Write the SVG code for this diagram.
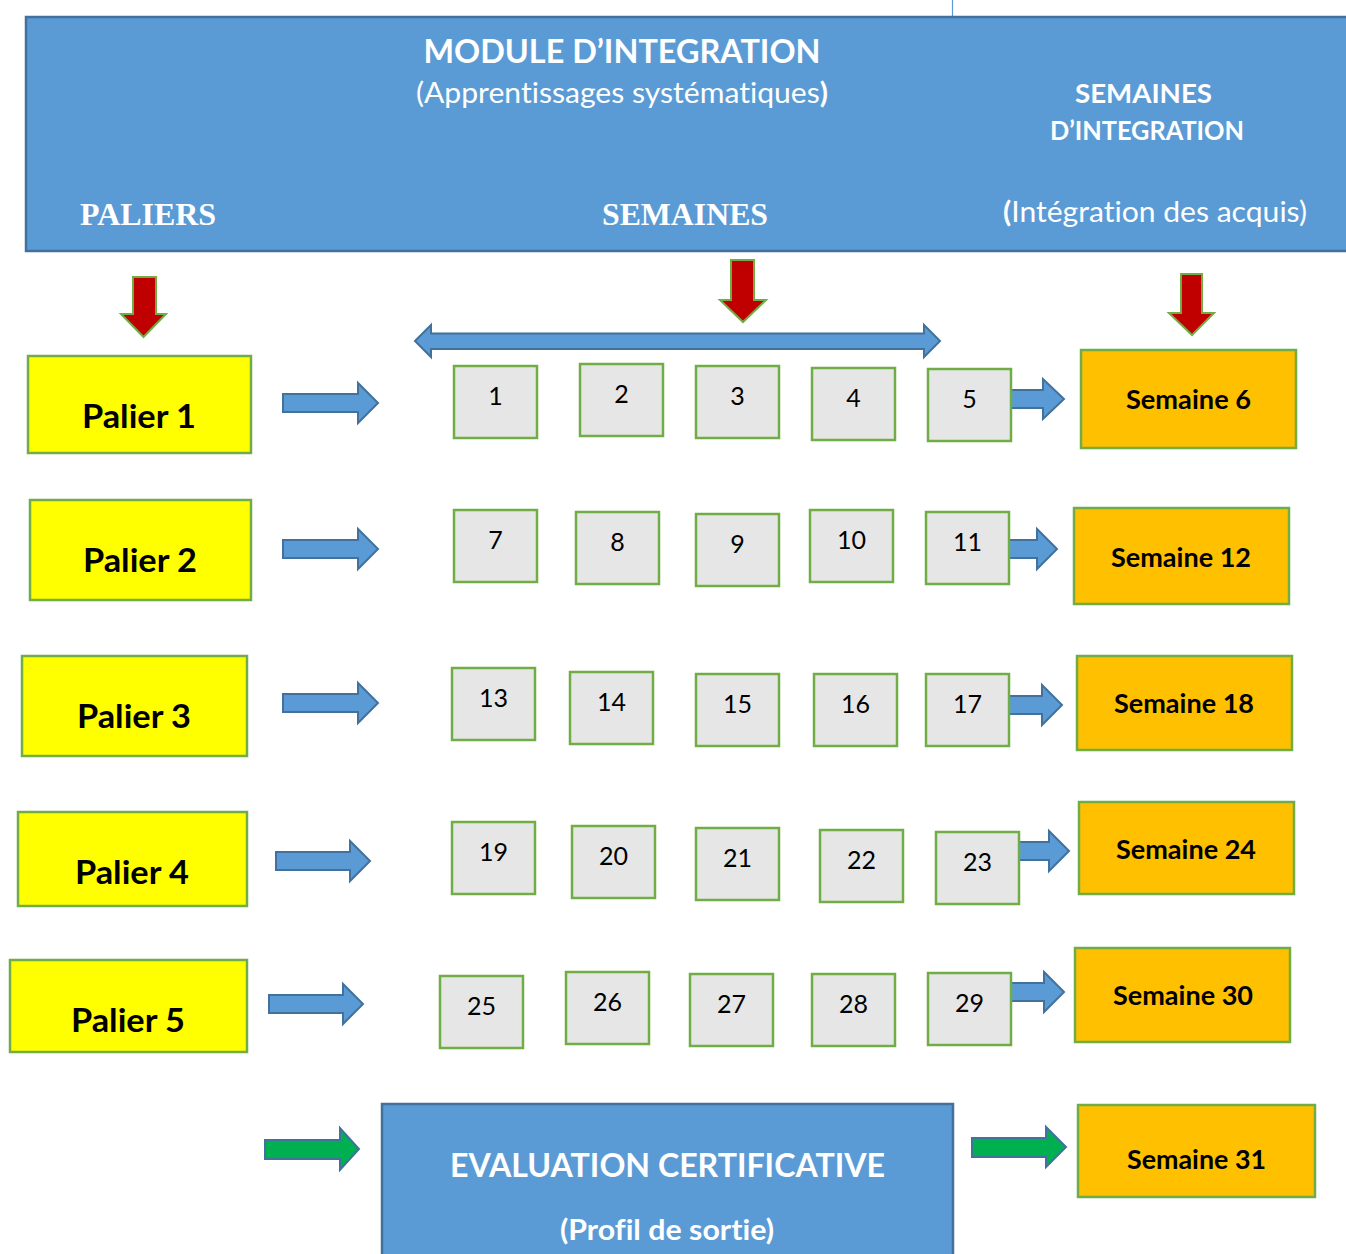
<svg xmlns="http://www.w3.org/2000/svg" width="1346" height="1254" viewBox="0 0 1346 1254">
  <style>
    .hdr { fill: #5B9BD5; stroke: #41719C; stroke-width: 2.5; }
    .palier { fill: #FFFF00; stroke: #70AD47; stroke-width: 2.5; }
    .week { fill: #E7E6E6; stroke: #70AD47; stroke-width: 2.5; }
    .integ { fill: #FFC000; stroke: #70AD47; stroke-width: 2.5; }
    .barrow { fill: #5B9BD5; stroke: #41719C; stroke-width: 2; stroke-linejoin: miter; }
    .garrow { fill: #00B050; stroke: #41719C; stroke-width: 2; }
    .rarrow { fill: #C00000; stroke: #70AD47; stroke-width: 2; }
    text { font-family: Lato, "Open Sans", "Liberation Sans", sans-serif; font-variant-ligatures: none; }
    .wt { fill: #FFFFFF; }
    .b { font-weight: bold; }
    .serif { font-family: "Liberation Serif", "DejaVu Serif", serif; font-weight: bold; font-size: 32px; fill: #FFFFFF; }
    .num { font-size: 25px; fill: #000000; text-anchor: middle; }
    .pl { font-size: 32px; font-weight: bold; fill: #000000; text-anchor: middle; }
    .sm { font-size: 27px; font-weight: bold; fill: #000000; text-anchor: middle; }
  </style>

  <!-- thin rule above the header -->
  <line x1="952.5" y1="0" x2="952.5" y2="17" stroke="#5B9BD5" stroke-width="1.2"/>

  <!-- header band -->
  <g id="header">
    <rect class="hdr" x="26" y="17" width="1340" height="234"/>
    <text class="wt b" x="622" y="63" font-size="33" text-anchor="middle" textLength="397" lengthAdjust="spacingAndGlyphs">MODULE D’INTEGRATION</text>
    <text class="wt" x="622" y="103" font-size="28" text-anchor="middle" textLength="412" lengthAdjust="spacingAndGlyphs">(Apprentissages systématiques<tspan font-weight="bold">)</tspan></text>
    <text class="wt b" x="1143.5" y="103" font-size="27" text-anchor="middle" textLength="137" lengthAdjust="spacingAndGlyphs">SEMAINES</text>
    <text class="wt b" x="1147" y="140" font-size="27" text-anchor="middle" textLength="194" lengthAdjust="spacingAndGlyphs">D’INTEGRATION</text>
    <text class="wt" x="1155" y="222" font-size="28" text-anchor="middle" textLength="304" lengthAdjust="spacingAndGlyphs"><tspan font-weight="bold">(</tspan>Intégration des acquis)</text>
    <text class="serif" x="80" y="225" textLength="136" lengthAdjust="spacingAndGlyphs">PALIERS</text>
    <text class="serif" x="602" y="225" textLength="166" lengthAdjust="spacingAndGlyphs">SEMAINES</text>
  </g>

  <!-- connectors -->
  <g id="connectors">
    <!-- red down arrows -->
    <path class="rarrow" d="M133,277 H156 V314 H166 L143.5,337 L121,314 H133 Z"/>
    <path class="rarrow" d="M731,260 H754 V300 H766 L743,322 L720,300 H731 Z"/>
    <path class="rarrow" d="M1181,274 H1202 V313 H1214 L1192,335 L1169,313 H1181 Z"/>
    <!-- double-headed span arrow -->
    <path class="barrow" d="M415,341 L431,325 V333.5 H924 V325 L940,341 L924,357 V349 H431 V357 Z"/>

    <!-- palier arrows -->
    <path class="barrow" d="M283,394 H358 V383 L378,403 L358,423 V412 H283 Z"/>
    <path class="barrow" d="M283,540 H358 V529 L378,549 L358,569 V558 H283 Z"/>
    <path class="barrow" d="M283,694 H358 V683 L378,703 L358,723 V712 H283 Z"/>
    <path class="barrow" d="M276,852 H350 V841 L370,861 L350,881 V870 H276 Z"/>
    <path class="barrow" d="M269,995 H343 V984 L363,1004 L343,1024 V1013 H269 Z"/>

    <!-- arrows into integration weeks -->
    <path class="barrow" d="M1011,390 H1043 V379 L1064,399 L1043,419 V408 H1011 Z"/>
    <path class="barrow" d="M1009,540 H1037 V529 L1057,549 L1037,569 V558 H1009 Z"/>
    <path class="barrow" d="M1009,696 H1042 V685 L1062,705 L1042,725 V714 H1009 Z"/>
    <path class="barrow" d="M1019,842 H1049 V831 L1069,851 L1049,871 V860 H1019 Z"/>
    <path class="barrow" d="M1011,983 H1044 V972 L1064,992 L1044,1012 V1001 H1011 Z"/>

    <!-- green arrows around the final evaluation -->
    <path class="garrow" d="M265,1140 H340 V1128 L359,1149 L340,1170 V1159 H265 Z"/>
    <path class="garrow" d="M972,1138 H1046 V1127 L1066,1147 L1046,1167 V1157 H972 Z"/>
  </g>

  <!-- paliers -->
  <g id="palier-1"><rect class="palier" x="28" y="356" width="223" height="97"/><text class="pl" x="139" y="428" textLength="114" lengthAdjust="spacingAndGlyphs">Palier 1</text></g>
  <g id="palier-2"><rect class="palier" x="30" y="500" width="221" height="100"/><text class="pl" x="140" y="572" textLength="114" lengthAdjust="spacingAndGlyphs">Palier 2</text></g>
  <g id="palier-3"><rect class="palier" x="22" y="656" width="225" height="100"/><text class="pl" x="134" y="728" textLength="114" lengthAdjust="spacingAndGlyphs">Palier 3</text></g>
  <g id="palier-4"><rect class="palier" x="18" y="812" width="229" height="94"/><text class="pl" x="132" y="884" textLength="114" lengthAdjust="spacingAndGlyphs">Palier 4</text></g>
  <g id="palier-5"><rect class="palier" x="10" y="960" width="237" height="92"/><text class="pl" x="128" y="1032" textLength="114" lengthAdjust="spacingAndGlyphs">Palier 5</text></g>

  <!-- weekly learning boxes -->
  <g id="week-1"><rect class="week" x="454" y="366" width="83" height="72"/><text class="num" x="495.5" y="405">1</text></g>
  <g id="week-2"><rect class="week" x="580" y="364" width="83" height="72"/><text class="num" x="621.5" y="403">2</text></g>
  <g id="week-3"><rect class="week" x="696" y="366" width="83" height="72"/><text class="num" x="737.5" y="405">3</text></g>
  <g id="week-4"><rect class="week" x="812" y="368" width="83" height="72"/><text class="num" x="853.5" y="407">4</text></g>
  <g id="week-5"><rect class="week" x="928" y="369" width="83" height="72"/><text class="num" x="969.5" y="408">5</text></g>

  <g id="week-7"><rect class="week" x="454" y="510" width="83" height="72"/><text class="num" x="495.5" y="549">7</text></g>
  <g id="week-8"><rect class="week" x="576" y="512" width="83" height="72"/><text class="num" x="617.5" y="551">8</text></g>
  <g id="week-9"><rect class="week" x="696" y="514" width="83" height="72"/><text class="num" x="737.5" y="553">9</text></g>
  <g id="week-10"><rect class="week" x="810" y="510" width="83" height="72"/><text class="num" x="851.5" y="549">10</text></g>
  <g id="week-11"><rect class="week" x="926" y="512" width="83" height="72"/><text class="num" x="967.5" y="551">11</text></g>

  <g id="week-13"><rect class="week" x="452" y="668" width="83" height="72"/><text class="num" x="493.5" y="707">13</text></g>
  <g id="week-14"><rect class="week" x="570" y="672" width="83" height="72"/><text class="num" x="611.5" y="711">14</text></g>
  <g id="week-15"><rect class="week" x="696" y="674" width="83" height="72"/><text class="num" x="737.5" y="713">15</text></g>
  <g id="week-16"><rect class="week" x="814" y="674" width="83" height="72"/><text class="num" x="855.5" y="713">16</text></g>
  <g id="week-17"><rect class="week" x="926" y="674" width="83" height="72"/><text class="num" x="967.5" y="713">17</text></g>

  <g id="week-19"><rect class="week" x="452" y="822" width="83" height="72"/><text class="num" x="493.5" y="861">19</text></g>
  <g id="week-20"><rect class="week" x="572" y="826" width="83" height="72"/><text class="num" x="613.5" y="865">20</text></g>
  <g id="week-21"><rect class="week" x="696" y="828" width="83" height="72"/><text class="num" x="737.5" y="867">21</text></g>
  <g id="week-22"><rect class="week" x="820" y="830" width="83" height="72"/><text class="num" x="861.5" y="869">22</text></g>
  <g id="week-23"><rect class="week" x="936" y="832" width="83" height="72"/><text class="num" x="977.5" y="871">23</text></g>

  <g id="week-25"><rect class="week" x="440" y="976" width="83" height="72"/><text class="num" x="481.5" y="1015">25</text></g>
  <g id="week-26"><rect class="week" x="566" y="972" width="83" height="72"/><text class="num" x="607.5" y="1011">26</text></g>
  <g id="week-27"><rect class="week" x="690" y="974" width="83" height="72"/><text class="num" x="731.5" y="1013">27</text></g>
  <g id="week-28"><rect class="week" x="812" y="974" width="83" height="72"/><text class="num" x="853.5" y="1013">28</text></g>
  <g id="week-29"><rect class="week" x="928" y="973" width="83" height="72"/><text class="num" x="969.5" y="1012">29</text></g>

  <!-- integration weeks -->
  <g id="semaine-6"><rect class="integ" x="1081" y="350" width="215" height="98"/><text class="sm" x="1188.5" y="409" textLength="125" lengthAdjust="spacingAndGlyphs">Semaine 6</text></g>
  <g id="semaine-12"><rect class="integ" x="1074" y="508" width="215" height="96"/><text class="sm" x="1181" y="567" textLength="140" lengthAdjust="spacingAndGlyphs">Semaine 12</text></g>
  <g id="semaine-18"><rect class="integ" x="1077" y="656" width="215" height="94"/><text class="sm" x="1184" y="713" textLength="140" lengthAdjust="spacingAndGlyphs">Semaine 18</text></g>
  <g id="semaine-24"><rect class="integ" x="1079" y="802" width="215" height="92"/><text class="sm" x="1186" y="859" textLength="140" lengthAdjust="spacingAndGlyphs">Semaine 24</text></g>
  <g id="semaine-30"><rect class="integ" x="1075" y="948" width="215" height="94"/><text class="sm" x="1183" y="1005" textLength="140" lengthAdjust="spacingAndGlyphs">Semaine 30</text></g>
  <g id="semaine-31"><rect class="integ" x="1078" y="1105" width="237" height="92"/><text class="sm" x="1196.5" y="1169" textLength="139" lengthAdjust="spacingAndGlyphs">Semaine 31</text></g>

  <!-- final certification -->
  <g id="evaluation">
    <rect class="hdr" x="382" y="1104" width="571" height="170"/>
    <text class="wt b" x="667.5" y="1177" font-size="32" text-anchor="middle" textLength="435" lengthAdjust="spacingAndGlyphs">EVALUATION CERTIFICATIVE</text>
    <text class="wt b" x="667" y="1240" font-size="29" text-anchor="middle" textLength="214" lengthAdjust="spacingAndGlyphs">(Profil de sortie)</text>
  </g>
</svg>
